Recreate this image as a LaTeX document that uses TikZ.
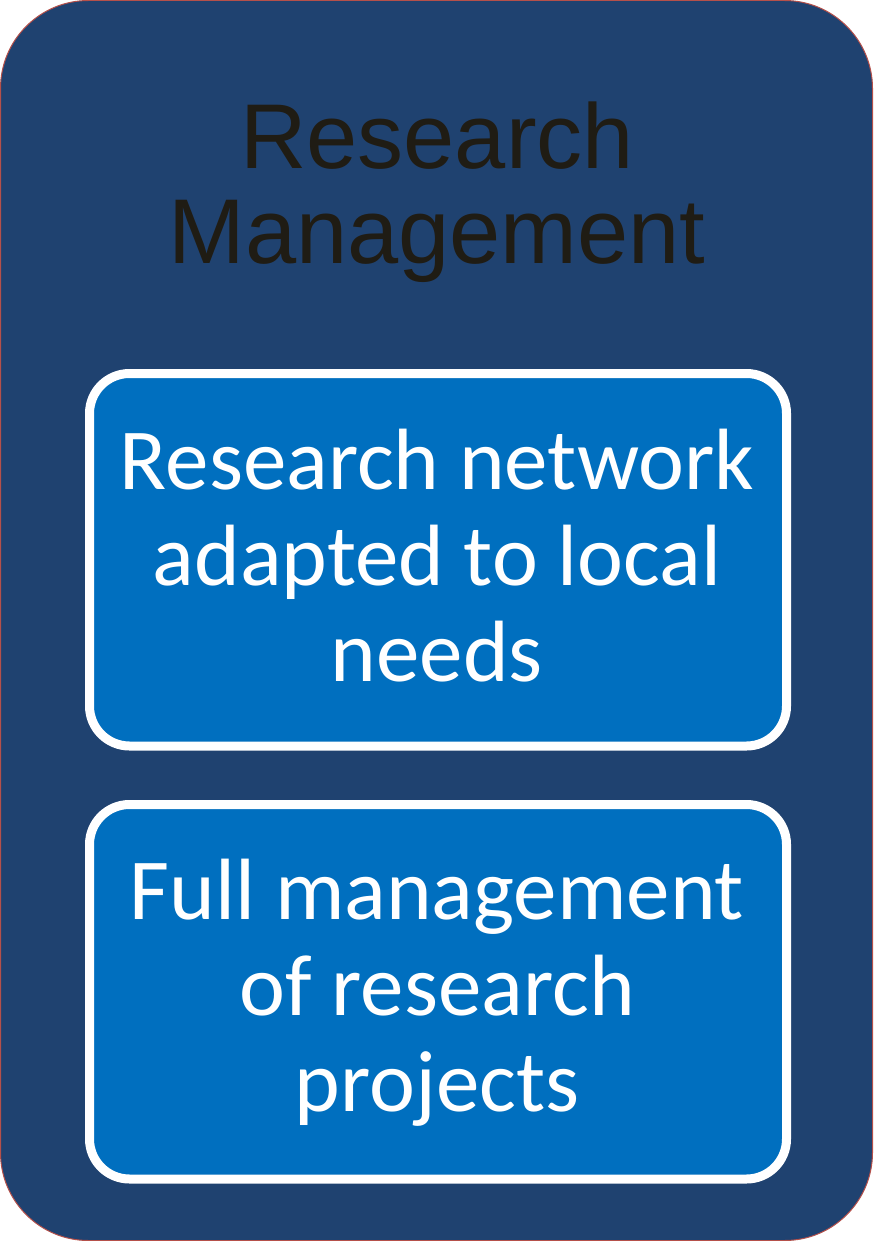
\documentclass[tikz,border=0pt]{standalone}
\usepackage{fontspec}
\setmainfont{Liberation Sans}
\newfontfamily\carl{Carlito}
\definecolor{outerfill}{HTML}{1F4270}
\definecolor{outerline}{HTML}{B5504A}
\definecolor{innerfill}{HTML}{006FBF}
\definecolor{titletext}{HTML}{1F1C14}
\tikzset{
  outerbox/.style={fill=outerfill, draw=outerline, line width=1pt, rounded corners=88pt},
  innerbox/.style={fill=innerfill, draw=white, line width=9pt, rounded corners=40pt},
  titlestyle/.style={text=titletext, align=center, inner sep=0pt, font=\fontsize{92}{95}\selectfont},
  boxtext/.style={text=white, align=center, inner sep=0pt, font=\carl\fontsize{87}{96}\selectfont}
}
\begin{document}
\begin{tikzpicture}[x=1pt,y=-1pt]
\useasboundingbox (0,0) rectangle (873,1241);
\draw[outerbox] (0.5,0.5) rectangle (872.5,1240.5);
\draw[innerbox] (89.5,373.5) rectangle (786.5,746);
\draw[innerbox] (89.5,804.5) rectangle (786.5,1179);
\node[titlestyle, anchor=base] (title) at (437,263) {Research\\Management};
\node[boxtext, anchor=base] (b1) at (437,681) {Research network\\adapted to local\\needs};
\node[boxtext, anchor=base] (b2) at (437,1111) {Full management\\of research\\projects};
\end{tikzpicture}
\end{document}
